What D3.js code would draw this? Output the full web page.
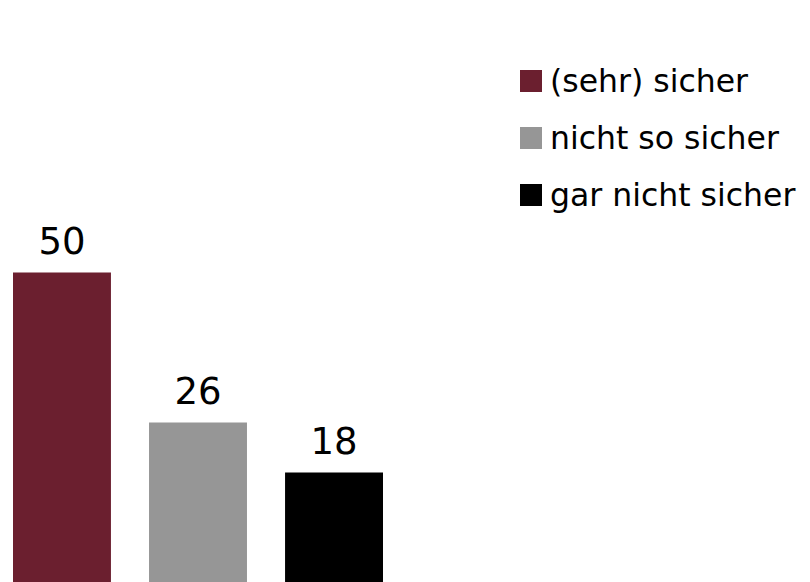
<!DOCTYPE html>
<html>
<head>
<meta charset="utf-8">
<script src="https://cdn.jsdelivr.net/npm/d3@7"></script>
<style>
  body { margin: 0; background: #fff; }
  svg { display: block; font-family: Verdana, "DejaVu Sans", sans-serif; }
</style>
</head>
<body>
<svg id="canvas"></svg>
<script>
const categories = ["(sehr) sicher", "nicht so sicher", "gar nicht sicher"];
const values = [50, 26, 18];
const colors = ["#6b1f2f", "#969696", "#000000"];

const width = 810,
  height = 582;

const canvas = d3.select("#canvas").attr("width", width).attr("height", height);

const xScale = d3.scaleBand().domain(categories).range([13, 383]).paddingInner(0.28).paddingOuter(0);
const yScale = d3.scaleLinear().domain([0, 80]).range([585, 85]);

// bars
canvas
  .selectAll(".bar")
  .data(categories)
  .enter()
  .append("rect")
  .attr("class", "bar")
  .attr("x", (d) => xScale(d))
  .attr("y", (d, i) => yScale(values[i]))
  .attr("width", xScale.bandwidth())
  .attr("height", (d, i) => yScale(0) - yScale(values[i]))
  .attr("fill", (d, i) => colors[i]);

// value labels
canvas
  .selectAll(".label")
  .data(categories)
  .enter()
  .append("text")
  .attr("class", "label")
  .attr("x", (d) => xScale(d) + xScale.bandwidth() / 2)
  .attr("y", (d, i) => yScale(values[i]) - 19)
  .attr("text-anchor", "middle")
  .attr("font-size", 37)
  .attr("fill", "#000")
  .text((d, i) => values[i]);

// legend
const legend = canvas
  .selectAll(".legend")
  .data(categories)
  .enter()
  .append("g")
  .attr("class", "legend")
  .attr("transform", (d, i) => `translate(520, ${92 + i * 57})`);

legend
  .append("rect")
  .attr("x", 0)
  .attr("y", -22)
  .attr("width", 22)
  .attr("height", 22)
  .attr("fill", (d, i) => colors[i]);

legend
  .append("text")
  .attr("x", 30)
  .attr("y", 0)
  .attr("font-size", 31.5)
  .attr("fill", "#000")
  .text((d) => d);
</script>
</body>
</html>
